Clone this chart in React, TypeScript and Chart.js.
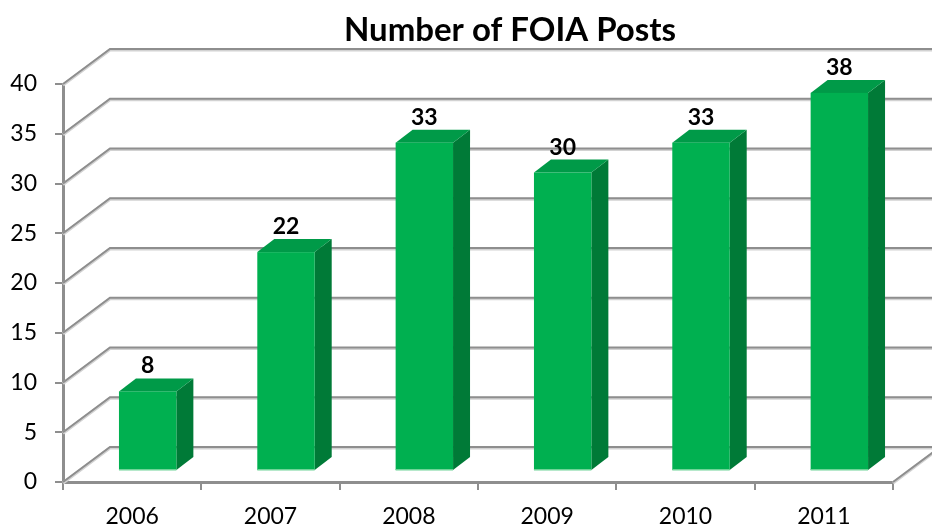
import React, { useEffect, useRef } from "react";
import { Chart, registerables } from "chart.js";

Chart.register(...registerables);

const categories: string[] = ["2006", "2007", "2008", "2009", "2010", "2011"];
const postCounts: number[] = [8, 22, 33, 30, 33, 38];
const yMin = 0;
const yMax = 40;
const yStep = 5;
const chartTitle = "Number of FOIA Posts";

// 3D geometry (pixels)
const WALL_DX = 47;
const WALL_DY = 35;
const BAR_FRONT_DX = 15.5;
const BAR_FRONT_DY = 11;
const BAR_DEPTH_DX = 17;
const BAR_DEPTH_DY = 13;

const GRID_COLOR = "#8e8e8e";
const GRID_LIGHT = "#d2d2d2";
const FRONT_COLOR = "#00b050";
const TOP_COLOR = "#009a48";
const SIDE_COLOR = "#007a37";

const threeDPlugin = {
  id: "threeD",
  beforeDatasetsDraw(chart: any) {
    const { ctx, chartArea, scales } = chart;
    const { left, right, bottom } = chartArea;
    const y = scales.y;
    const farRight = chart.width + 20;
    const stroke = (pts: number[][]) => {
      ctx.beginPath();
      ctx.lineWidth = 3;
      ctx.strokeStyle = GRID_LIGHT;
      ctx.moveTo(pts[0][0], pts[0][1] + 1);
      for (let i = 1; i < pts.length; i++) ctx.lineTo(pts[i][0], pts[i][1] + 1);
      ctx.stroke();
      ctx.beginPath();
      ctx.lineWidth = 2;
      ctx.strokeStyle = GRID_COLOR;
      ctx.moveTo(pts[0][0], pts[0][1]);
      for (let i = 1; i < pts.length; i++) ctx.lineTo(pts[i][0], pts[i][1]);
      ctx.stroke();
    };
    ctx.save();
    y.ticks.forEach((t: any) => {
      const py = y.getPixelForValue(t.value);
      stroke([
        [left, py],
        [left + WALL_DX, py - WALL_DY],
        [farRight, py - WALL_DY],
      ]);
    });
    stroke([
      [right, bottom],
      [right + WALL_DX, bottom - WALL_DY],
    ]);
    ctx.restore();
  },
  afterDatasetsDraw(chart: any) {
    const { ctx } = chart;
    const meta = chart.getDatasetMeta(0);
    ctx.save();
    meta.data.forEach((el: any, i: number) => {
      const { x, y, base, width } = el.getProps(["x", "y", "base", "width"], true);
      const l = x - width / 2 + BAR_FRONT_DX;
      const r = x + width / 2 + BAR_FRONT_DX;
      const t = y - BAR_FRONT_DY;
      const b = base - BAR_FRONT_DY;
      // side face
      ctx.fillStyle = SIDE_COLOR;
      ctx.beginPath();
      ctx.moveTo(r, t);
      ctx.lineTo(r + BAR_DEPTH_DX, t - BAR_DEPTH_DY);
      ctx.lineTo(r + BAR_DEPTH_DX, b - BAR_DEPTH_DY);
      ctx.lineTo(r, b);
      ctx.closePath();
      ctx.fill();
      // top face
      ctx.fillStyle = TOP_COLOR;
      ctx.beginPath();
      ctx.moveTo(l, t);
      ctx.lineTo(l + BAR_DEPTH_DX, t - BAR_DEPTH_DY);
      ctx.lineTo(r + BAR_DEPTH_DX, t - BAR_DEPTH_DY);
      ctx.lineTo(r, t);
      ctx.closePath();
      ctx.fill();
      // front face
      ctx.fillStyle = FRONT_COLOR;
      ctx.fillRect(l, t, r - l, b - t);
      ctx.fillStyle = "#6fd497";
      ctx.fillRect(l, b - 1, r - l, 1.5);
      // value label
      ctx.fillStyle = "#000";
      ctx.font = "bold 23px Lato";
      ctx.textAlign = "center";
      ctx.textBaseline = "alphabetic";
      ctx.fillText(String(postCounts[i]), (l + r) / 2, t - BAR_DEPTH_DY - 5);
    });
    ctx.restore();
  },
  afterDraw(chart: any) {
    const { ctx } = chart;
    ctx.save();
    ctx.fillStyle = "#000";
    ctx.font = "bold 33px Lato";
    ctx.textAlign = "center";
    ctx.textBaseline = "alphabetic";
    ctx.fillText(chartTitle, 510, 41);
    ctx.restore();
  },
};

export default function App() {
  const canvasRef = useRef<HTMLCanvasElement | null>(null);

  useEffect(() => {
    if (!canvasRef.current) return;
    const chart = new Chart(canvasRef.current, {
      type: "bar",
      data: {
        labels: categories,
        datasets: [
          {
            label: chartTitle,
            data: postCounts,
            backgroundColor: "rgba(0,0,0,0)",
            borderWidth: 0,
            categoryPercentage: 1,
            barPercentage: 0.415,
          },
        ],
      },
      options: {
        responsive: false,
        animation: false,
        events: [],
        layout: { padding: { top: 84, right: 39, left: 0, bottom: 0 } },
        plugins: {
          legend: { display: false },
          title: { display: false },
          tooltip: { enabled: false },
        },
        scales: {
          x: {
            grid: {
              display: true,
              drawOnChartArea: false,
              drawTicks: true,
              tickLength: 8,
              color: GRID_COLOR,
              lineWidth: 2,
              offset: true,
            },
            border: { display: true, color: GRID_COLOR, width: 3 },
            ticks: {
              color: "#000",
              font: { family: "Lato", size: 23 },
              padding: 13,
              maxRotation: 0,
            },
            afterFit: (scale: any) => {
              scale.height = 43;
            },
          },
          y: {
            min: yMin,
            max: yMax,
            grid: {
              display: true,
              drawOnChartArea: false,
              drawTicks: true,
              tickLength: 8,
              color: GRID_COLOR,
              lineWidth: 2,
            },
            border: { display: true, color: GRID_COLOR, width: 3 },
            ticks: {
              stepSize: yStep,
              color: "#000",
              font: { family: "Lato", size: 23 },
              padding: 18,
            },
            afterFit: (scale: any) => {
              scale.width = 63;
            },
          },
        },
      },
      plugins: [threeDPlugin],
    });
    return () => chart.destroy();
  }, []);

  return (
    <div style={{ position: "absolute", left: 0, top: 0, width: 932, height: 525, background: "#fff" }}>
      <canvas ref={canvasRef} width={932} height={525} style={{ display: "block" }} />
    </div>
  );
}
